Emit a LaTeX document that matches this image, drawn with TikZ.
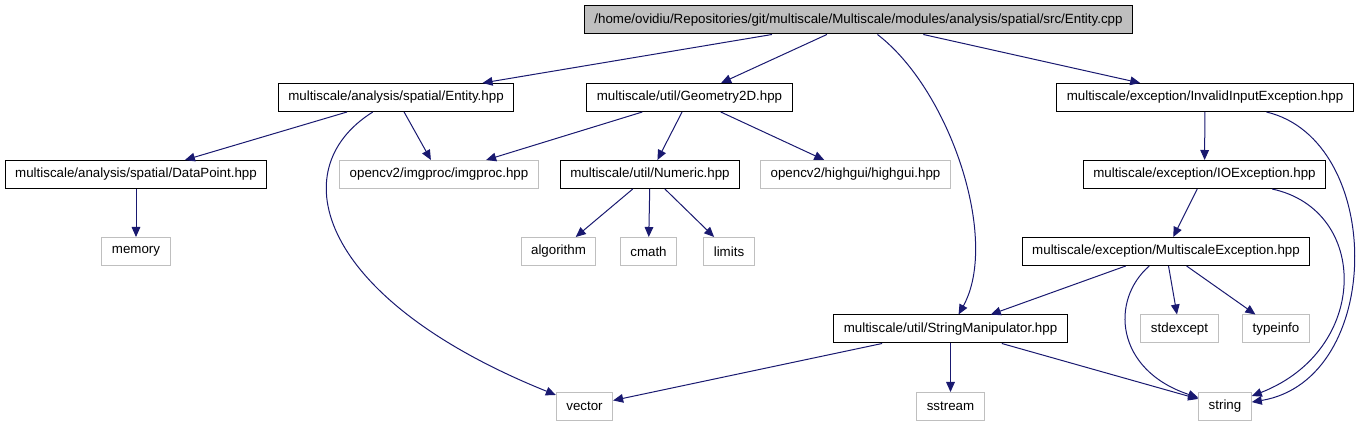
\documentclass[tikz,border=0pt]{standalone}
\usepackage{fontspec}
\setmainfont{Liberation Sans}
\usepackage{xcolor}
\usepackage{tikz}
\usetikzlibrary{arrows.meta}
\definecolor{edgeBlue}{HTML}{191970}
\definecolor{sysGray}{HTML}{BFBFBF}

\begin{document}
\begin{tikzpicture}[
    x=0.75pt,y=-0.75pt,
    >={Triangle[length=7.5pt,width=6.5pt]},
    every node/.style={font=\fontsize{10pt}{12pt}\selectfont,inner xsep=7.5pt,inner ysep=0pt,minimum height=21pt},
    file/.style={rectangle,draw=black,line width=0.75pt,fill=white},
    sysfile/.style={rectangle,draw=sysGray,line width=0.75pt,fill=white},
    rootfile/.style={rectangle,draw=black,line width=0.75pt,fill=sysGray},
    dep/.style={->,draw=edgeBlue,line width=0.75pt}
  ]
  \useasboundingbox (0,0) rectangle (1357,427);
  %% Source file
  \node[rootfile] (src) at (858.5,20) {/home/ovidiu/Repositories/git/multiscale/Multiscale/modules/analysis/spatial/src/Entity.cpp};
  %% Project headers
  \node[file] (ent)  at (396,97.5)    {multiscale/analysis/spatial/Entity.hpp};
  \node[file] (geo)  at (689.5,97.5)  {multiscale/util/Geometry2D.hpp};
  \node[file] (inv)  at (1205,97.5)   {multiscale/exception/InvalidInputException.hpp};
  \node[file] (dpt)  at (136,174.5)   {multiscale/analysis/spatial/DataPoint.hpp};
  \node[file] (num)  at (650,174.5)   {multiscale/util/Numeric.hpp};
  \node[file] (ioex) at (1204.5,174.5){multiscale/exception/IOException.hpp};
  \node[file] (msex) at (1166,251.5)  {multiscale/exception/MultiscaleException.hpp};
  \node[file] (strm) at (950.5,329)   {multiscale/util/StringManipulator.hpp};
  %% System headers
  \node[sysfile] (imgp)  at (439,174.5)   {opencv2/imgproc/imgproc.hpp};
  \node[sysfile] (hgui)  at (855.5,174.5) {opencv2/highgui/highgui.hpp};
  \node[sysfile] (mem)   at (136,251.5)   {memory};
  \node[sysfile] (alg)   at (558.5,251.5) {algorithm};
  \node[sysfile] (cmth)  at (648.5,251.5) {cmath};
  \node[sysfile] (lim)   at (729,251.5)   {limits};
  \node[sysfile] (stdx)  at (1179.5,329)  {stdexcept};
  \node[sysfile] (tinfo) at (1276,329)    {typeinfo};
  \node[sysfile] (vec)   at (584.5,406.5) {vector};
  \node[sysfile] (sstr)  at (950.5,406.5) {sstream};
  \node[sysfile] (str)   at (1225,406.5)  {string};
  %% Includes
  \draw[dep] (src) -- (ent);
  \draw[dep] (src) -- (geo);
  \draw[dep] (src) -- (inv);
  \draw[dep] (src) .. controls (950,90) and (1000,240) .. (strm);
  \draw[dep] (ent) -- (dpt);
  \draw[dep] (ent) -- (imgp);
  \draw[dep] (ent) .. controls (280,170) and (320,300) .. (vec);
  \draw[dep] (geo) -- (imgp);
  \draw[dep] (geo) -- (num);
  \draw[dep] (geo) -- (hgui);
  \draw[dep] (dpt) -- (mem);
  \draw[dep] (num) -- (alg);
  \draw[dep] (num) -- (cmth);
  \draw[dep] (num) -- (lim);
  \draw[dep] (inv) -- (ioex);
  \draw[dep] (inv) .. controls (1385,140) and (1385,380) .. (str);
  \draw[dep] (ioex) -- (msex);
  \draw[dep] (ioex) .. controls (1370,210) and (1370,350) .. (str);
  \draw[dep] (msex) -- (strm);
  \draw[dep] (msex) -- (stdx);
  \draw[dep] (msex) -- (tinfo);
  \draw[dep] (msex) .. controls (1110,300) and (1115,370) .. (str);
  \draw[dep] (strm) -- (vec);
  \draw[dep] (strm) -- (sstr);
  \draw[dep] (strm) -- (str);
\end{tikzpicture}
\end{document}
